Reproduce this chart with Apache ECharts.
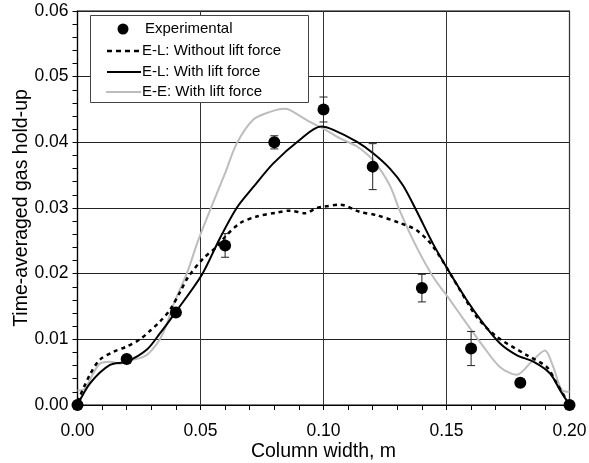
<!DOCTYPE html>
<html><head><meta charset="utf-8">
<script src="https://cdn.jsdelivr.net/npm/echarts@6/dist/echarts.min.js"></script>
<style>html,body{margin:0;padding:0;background:#fff}#c{width:589px;height:463px}</style>
</head><body><div id="c"></div>
<script>
const expX = [0, 0.02, 0.04, 0.06, 0.08, 0.10, 0.12, 0.14, 0.16, 0.18, 0.20];
const expY = [0, 0.0070, 0.0141, 0.0243, 0.0400, 0.0450, 0.0363, 0.0178, 0.0086, 0.0034, 0];
const expErr = [0, 0, 0, 0.0018, 0.0010, 0.0019, 0.0035, 0.0021, 0.0026, 0.0006, 0];

const noLiftX = [0, 0.005, 0.0091, 0.0146, 0.02, 0.0254, 0.0295, 0.0335, 0.0376, 0.0417, 0.045, 0.0511, 0.0566, 0.0607, 0.0661, 0.0728, 0.081, 0.0864, 0.0925, 0.0972, 0.1, 0.1067, 0.1148, 0.1216, 0.1311, 0.1379, 0.1446, 0.1555, 0.1623, 0.1704, 0.1826, 0.1907, 0.1948, 0.2];
const noLiftY = [0.0005, 0.0046, 0.0069, 0.0081, 0.0089, 0.0100, 0.0113, 0.0127, 0.0145, 0.0172, 0.0195, 0.0223, 0.0241, 0.0259, 0.0277, 0.0287, 0.0293, 0.0296, 0.0292, 0.0300, 0.0302, 0.0305, 0.0294, 0.0289, 0.0277, 0.0266, 0.0241, 0.0175, 0.0134, 0.0104, 0.0076, 0.0058, 0.0033, 0];

const liftX = [0, 0.0051, 0.0132, 0.02, 0.0281, 0.0335, 0.0396, 0.0505, 0.0579, 0.0647, 0.0715, 0.0796, 0.0904, 0.099, 0.104, 0.1135, 0.1203, 0.127, 0.1324, 0.1379, 0.1446, 0.1514, 0.1582, 0.165, 0.1717, 0.1785, 0.1853, 0.1921, 0.1961, 0.2];
const liftY = [0, 0.0033, 0.0061, 0.0066, 0.0084, 0.0109, 0.0140, 0.0198, 0.0254, 0.0300, 0.0332, 0.0368, 0.0404, 0.0424, 0.0419, 0.0401, 0.0383, 0.0360, 0.0334, 0.0295, 0.0245, 0.0201, 0.0160, 0.0124, 0.0094, 0.0076, 0.0066, 0.0048, 0.0023, 0];

const eeX = [0, 0.003, 0.0064, 0.0091, 0.0132, 0.0173, 0.0207, 0.0250, 0.0281, 0.0310, 0.0335, 0.0360, 0.0390, 0.0444, 0.0491, 0.0552, 0.0600, 0.0647, 0.0713, 0.0780, 0.0843, 0.0864, 0.0945, 0.0999, 0.1067, 0.1135, 0.1203, 0.127, 0.1311, 0.1379, 0.1446, 0.1514, 0.1582, 0.165, 0.1717, 0.1785, 0.1853, 0.1900, 0.1934, 0.1968, 0.2];
const eeY = [0.0022, 0.0025, 0.0048, 0.0063, 0.0066, 0.0063, 0.0068, 0.0071, 0.0076, 0.0087, 0.0100, 0.0120, 0.0153, 0.0200, 0.0251, 0.0309, 0.0353, 0.0398, 0.0434, 0.0446, 0.0451, 0.0449, 0.0431, 0.0421, 0.0406, 0.0394, 0.0372, 0.0334, 0.0295, 0.0240, 0.0195, 0.0160, 0.0124, 0.0089, 0.0058, 0.0046, 0.0069, 0.0083, 0.0058, 0.0023, 0.0020];

const xTicks = ['0.00', '0.05', '0.10', '0.15', '0.20'];
const yTicks = ['0.00', '0.01', '0.02', '0.03', '0.04', '0.05', '0.06'];
const legendNames = ['Experimental', 'E-L: Without lift force', 'E-L: With lift force', 'E-E: With lift force'];

const zip = (a, b) => a.map((v, i) => [v, b[i]]);
const FONT = 'Liberation Sans, Arial, sans-serif';

// legend drawn as graphic elements
const LX = 90, LY = 15, LW = 218, LH = 87;
const rowY = [29, 51, 72, 92];
const legendGraphics = [
  {type: 'rect', shape: {x: LX + 0.5, y: LY + 0.5, width: LW, height: LH}, style: {fill: '#fff', stroke: '#444', lineWidth: 1}, z: 100},
  {type: 'circle', shape: {cx: 123, cy: rowY[0], r: 5.5}, style: {fill: '#000'}, z: 101},
  {type: 'line', shape: {x1: 107, y1: rowY[1], x2: 140, y2: rowY[1]}, style: {stroke: '#000', lineWidth: 2.5, lineDash: [5, 4]}, z: 101},
  {type: 'line', shape: {x1: 107, y1: rowY[2], x2: 141, y2: rowY[2]}, style: {stroke: '#000', lineWidth: 2}, z: 101},
  {type: 'line', shape: {x1: 106, y1: rowY[3], x2: 141, y2: rowY[3]}, style: {stroke: '#bdbdbd', lineWidth: 2}, z: 101}
].concat(legendNames.map((n, i) => ({
  type: 'text', x: i === 0 ? 145 : 142, y: rowY[i], z: 101,
  style: {text: n, fontFamily: FONT, fontSize: 15, fill: '#000', verticalAlign: 'middle', align: 'left'}
})));

const chart = echarts.init(document.getElementById('c'), null, {renderer: 'canvas'});
chart.setOption({
  animation: false,
  backgroundColor: '#fff',
  grid: {left: 77.5, right: 19.5, top: 11, bottom: 58, containLabel: false, outerBoundsMode: 'none',
    show: true, borderColor: '#000', borderWidth: 1.2, backgroundColor: 'transparent'},
  graphic: legendGraphics,
  xAxis: {
    type: 'value', min: 0, max: 0.2, interval: 0.05,
    name: 'Column width, m', nameLocation: 'middle', nameGap: 37, nameMoveOverlap: false,
    nameTextStyle: {fontFamily: FONT, fontSize: 19.5, color: '#000'},
    axisLine: {onZero: false, lineStyle: {color: '#000', width: 1.2}},
    axisTick: {show: true, length: 5, lineStyle: {color: '#000'}},
    minorTick: {show: true, splitNumber: 5, length: 5, lineStyle: {color: '#000'}},
    splitLine: {show: true, lineStyle: {color: '#333', width: 1}},
    axisLabel: {fontFamily: FONT, fontSize: 17.5, color: '#000', margin: 17,
      formatter: v => xTicks[Math.round(v / 0.05)] || ''}
  },
  yAxis: {
    type: 'value', min: 0, max: 0.06, interval: 0.01,
    name: 'Time-averaged gas hold-up', nameLocation: 'middle', nameGap: 46, nameMoveOverlap: false,
    nameTextStyle: {fontFamily: FONT, fontSize: 19.5, color: '#000'},
    axisLine: {show: true, onZero: false, lineStyle: {color: '#000', width: 1.2}},
    axisTick: {show: true, length: 5, lineStyle: {color: '#000'}},
    minorTick: {show: true, splitNumber: 5, length: 5, lineStyle: {color: '#000'}},
    splitLine: {show: true, lineStyle: {color: '#222', width: 1}},
    axisLabel: {fontFamily: FONT, fontSize: 17.5, color: '#000', margin: 9,
      formatter: v => yTicks[Math.round(v / 0.01)] || ''}
  },
  series: [
    {name: 'E-E: With lift force', type: 'line', data: zip(eeX, eeY), smooth: 0.3,
      showSymbol: false, symbol: 'none', lineStyle: {color: '#bdbdbd', width: 2}, z: 2},
    {name: 'E-L: Without lift force', type: 'line', data: zip(noLiftX, noLiftY), smooth: 0.3,
      showSymbol: false, symbol: 'none', lineStyle: {color: '#000', width: 2.5, type: [4, 4]}, z: 3},
    {name: 'E-L: With lift force', type: 'line', data: zip(liftX, liftY), smooth: 0.3,
      showSymbol: false, symbol: 'none', lineStyle: {color: '#000', width: 2}, z: 4},
    {name: 'errbars', type: 'custom', z: 5,
      data: expX.map((x, i) => [x, expY[i] - expErr[i], expY[i] + expErr[i]]),
      renderItem: (params, api) => {
        if (api.value(2) - api.value(1) <= 0) return null;
        const lo = api.coord([api.value(0), api.value(1)]);
        const hi = api.coord([api.value(0), api.value(2)]);
        const w = 4;
        const st = {stroke: '#222', lineWidth: 1};
        return {type: 'group', children: [
          {type: 'line', shape: {x1: lo[0], y1: lo[1], x2: hi[0], y2: hi[1]}, style: st},
          {type: 'line', shape: {x1: lo[0] - w, y1: lo[1], x2: lo[0] + w, y2: lo[1]}, style: st},
          {type: 'line', shape: {x1: hi[0] - w, y1: hi[1], x2: hi[0] + w, y2: hi[1]}, style: st}
        ]};
      }},
    {name: 'Experimental', type: 'scatter', data: zip(expX, expY), symbol: 'circle', symbolSize: 12,
      itemStyle: {color: '#000', opacity: 1}, z: 6, clip: false}
  ]
});
</script></body></html>
